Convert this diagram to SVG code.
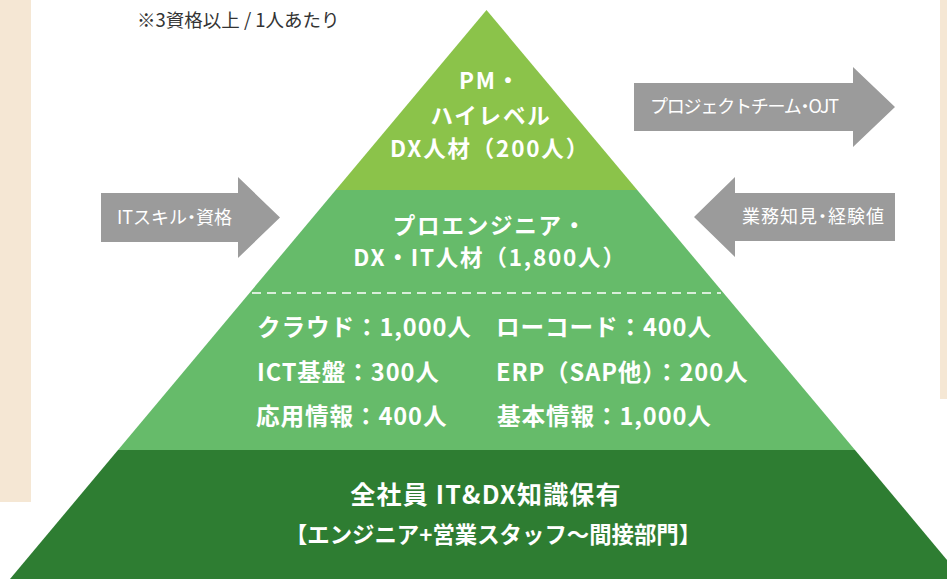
<svg xmlns="http://www.w3.org/2000/svg" width="947" height="579" viewBox="0 0 947 579">
<style>
.bg{fill:#f5e7d4}
.arrow{fill:#9b9b9b}
.at{font-family:"Noto Sans CJK JP","Noto Sans",sans-serif;font-size:18px;fill:#ffffff;font-feature-settings:"halt"}
.pt{font-family:"Noto Sans CJK JP","Noto Sans",sans-serif;font-weight:700;fill:#ffffff;font-size:22.5px;letter-spacing:1.8px}
.gt{font-family:"Noto Sans CJK JP","Noto Sans",sans-serif;font-weight:700;fill:#ffffff;font-size:23.6px;letter-spacing:0.9px}
.bt1{font-family:"Noto Sans CJK JP","Noto Sans",sans-serif;font-weight:700;fill:#ffffff;font-size:25px;letter-spacing:1.2px}
.bt2{font-family:"Noto Sans CJK JP","Noto Sans",sans-serif;font-weight:700;fill:#ffffff;font-size:22.4px}
.note{font-family:"Noto Sans CJK JP","Noto Sans",sans-serif;font-size:18.5px;fill:#333333}
</style>
<rect width="947" height="579" fill="#ffffff"/>
<rect class="bg" x="0" y="0" width="31" height="502"/>
<rect class="bg" x="940" y="0" width="7" height="399"/>
<text class="note" x="137" y="27">※3資格以上 / 1人あたり</text>

<g id="tier-top">
<polygon points="486.5,10 637.25,190 335.75,190" fill="#8bc34a"/>
<text class="pt" text-anchor="middle" x="490" y="89">PM・</text>
<text class="pt" text-anchor="middle" x="491" y="124">ハイレベル</text>
<text class="pt" text-anchor="middle" x="490" y="157">DX人材（200人）</text>
</g>
<g id="tier-middle">
<polygon points="335.75,190 637.25,190 855,450 118,450" fill="#66bb6a"/>
<line x1="252" y1="293" x2="721" y2="293" stroke="#ffffff" stroke-width="1.5" stroke-dasharray="9,6"/>
<text class="pt" text-anchor="middle" x="490" y="234">プロエンジニア・</text>
<text class="pt" text-anchor="middle" x="490" y="266">DX・IT人材（1,800人）</text>
<text class="gt" x="257" y="336">クラウド：1,000人</text>
<text class="gt" x="496" y="336">ローコード：400人</text>
<text class="gt" x="257" y="381">ICT基盤：300人</text>
<text class="gt" x="496" y="381">ERP（SAP他）：200人</text>
<text class="gt" x="256" y="425">応用情報：400人</text>
<text class="gt" x="497" y="425">基本情報：1,000人</text>
</g>
<g id="tier-bottom">
<polygon points="118,450 855,450 963,579 10,579" fill="#2e7d32"/>
<text class="bt1" text-anchor="middle" x="486" y="504">全社員 IT&amp;DX知識保有</text>
<text class="bt2" text-anchor="middle" x="493" y="543">【エンジニア+営業スタッフ〜間接部門】</text>
</g>

<g id="connectors">
<g id="arrow-it">
<polygon class="arrow" points="101,193 238,193 238,177 280,217.5 238,258 238,242 101,242"/>
<text class="at" x="117" y="224" textLength="115" lengthAdjust="spacing">ITスキル・資格</text>
</g>
<g id="arrow-pj">
<polygon class="arrow" points="634,83 853,83 853,67 895,107 853,147 853,131 634,131"/>
<text class="at" x="650" y="113" textLength="189" lengthAdjust="spacing">プロジェクトチーム・OJT</text>
</g>
<g id="arrow-biz">
<polygon class="arrow" points="895,193 735,193 735,177 694,217 735,257 735,241 895,241"/>
<text class="at" x="742" y="223" textLength="142" lengthAdjust="spacing">業務知見・経験値</text>
</g>
</g>
</svg>
